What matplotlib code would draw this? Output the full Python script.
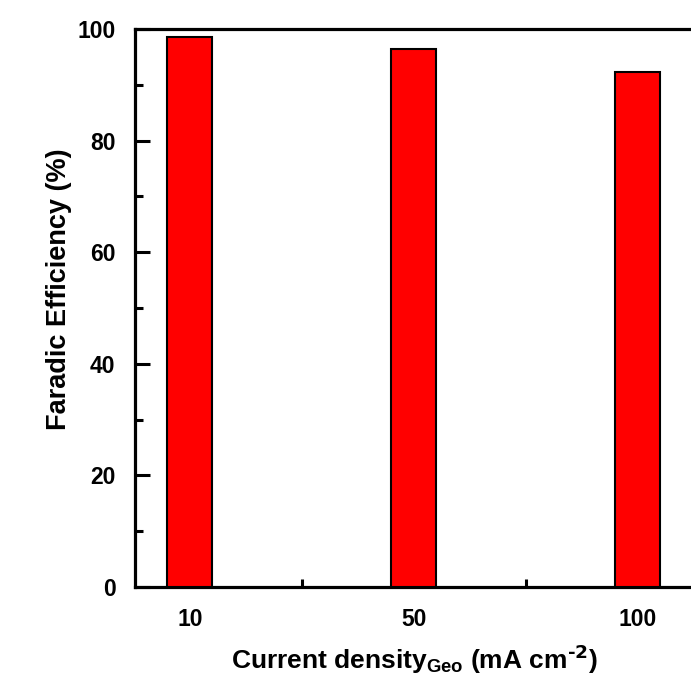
import matplotlib.pyplot as plt
from matplotlib.ticker import MultipleLocator, FixedLocator

plt.rcParams['font.family'] = ['Liberation Sans', 'DejaVu Sans']
plt.rcParams['font.weight'] = 'bold'
plt.rcParams['mathtext.default'] = 'regular'

# Faradaic efficiency at each geometric current density
current_density = ['10', '50', '100']
faradic_eff = [98.5, 96.5, 92.3]

fig = plt.figure(figsize=(6.91, 6.93), dpi=100)
ax = fig.add_axes([0.1954, 0.153, 0.808, 0.805])

pos = list(range(len(current_density)))
ax.bar(pos, faradic_eff, width=0.2, color='#ff0000', edgecolor='black', linewidth=1.5, zorder=3)

ax.set_xlim(-0.245, 2.25)
ax.set_ylim(0, 100)
ax.set_xticks(pos)
ax.set_xticklabels(current_density)
ax.xaxis.set_minor_locator(FixedLocator([0.5, 1.5]))
ax.yaxis.set_major_locator(MultipleLocator(20))
ax.yaxis.set_minor_locator(MultipleLocator(10))

for s in ax.spines.values():
    s.set_linewidth(2.3)

ax.tick_params(axis='y', which='major', direction='in', length=11, width=2.2, pad=14, labelsize=16.5)
ax.tick_params(axis='y', which='minor', direction='in', length=6, width=2.2)
ax.tick_params(axis='x', which='major', direction='in', length=0, pad=15, labelsize=16.5)
ax.tick_params(axis='x', which='minor', direction='in', length=6, width=2.2)

ax.set_ylabel('Faradic Efficiency (%)', fontsize=19.5, fontweight='bold')
ax.yaxis.set_label_coords(-0.113, 0.534)
ax.set_xlabel(r'Current density$_{Geo}$ (mA cm$^{\text{-2}}$)', fontsize=19, fontweight='bold', labelpad=9)

fig.savefig('out.png', dpi=100)
